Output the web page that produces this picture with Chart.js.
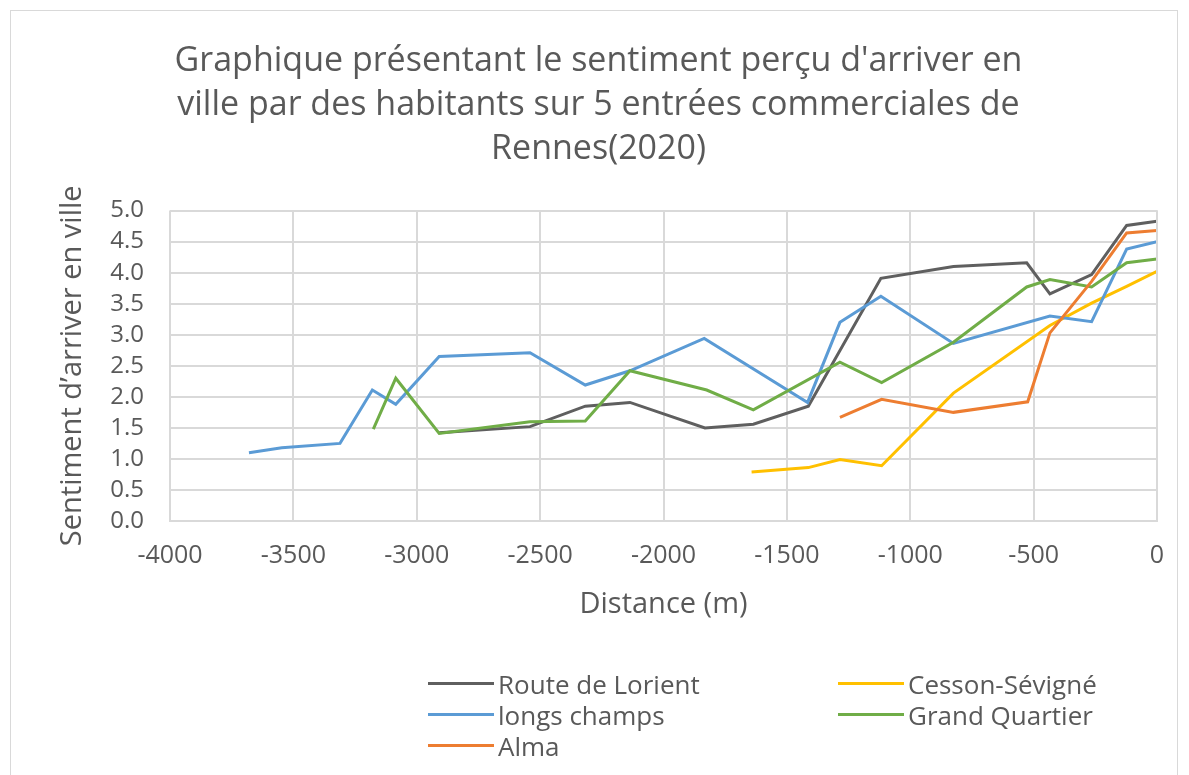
<!DOCTYPE html>
<html>
<head>
<meta charset="utf-8">
<script src="https://cdn.jsdelivr.net/npm/chart.js@4/dist/chart.umd.min.js"></script>
<style>
  body { margin: 0; background: #fff; font-family: "Open Sans", sans-serif; }
  #wrap { position: relative; width: 1189px; height: 775px; overflow: hidden; }
  #frame { position: absolute; left: 10px; top: 10px; width: 1168px; height: 800px; border: 1px solid #d9d9d9; box-sizing: border-box; }
  #c { position: absolute; left: 0; top: 0; }
  #legend { position: absolute; left: 428px; top: 668px; display: grid; grid-template-columns: 410px 300px; row-gap: 0px; }
  .item { display: flex; align-items: center; height: 31px; color: #595959; font-size: 26px; }
  .item span.ln { display: inline-block; width: 66px; height: 3px; margin-right: 4px; }
</style>
</head>
<body>
<div id="wrap">
  <div id="frame"></div>
  <canvas id="c" width="1189" height="775"></canvas>
  <div id="legend"></div>
</div>
<script>
// distances (m) and feeling values per entrance
const lorientX = [-2909, -2541, -2317, -2136, -1832, -1636, -1413, -1119, -825, -528, -434, -265, -123, 0];
const lorientY = [1.42, 1.52, 1.85, 1.91, 1.50, 1.56, 1.85, 3.91, 4.10, 4.16, 3.66, 3.97, 4.76, 4.83];

const cessonX = [-1643, -1413, -1285, -1116, -825, -434, -265, -123, 0];
const cessonY = [0.79, 0.86, 0.99, 0.89, 2.06, 3.15, 3.51, 3.78, 4.02];

const longsX = [-3680, -3547, -3311, -3180, -3085, -2909, -2541, -2317, -2136, -1835, -1416, -1285, -1119, -825, -434, -265, -123, 0];
const longsY = [1.10, 1.18, 1.25, 2.11, 1.88, 2.65, 2.71, 2.19, 2.42, 2.94, 1.91, 3.20, 3.62, 2.86, 3.30, 3.21, 4.38, 4.50];

const grandX = [-3176, -3085, -2909, -2541, -2317, -2136, -1825, -1636, -1285, -1116, -825, -528, -434, -265, -123, 0];
const grandY = [1.48, 2.30, 1.41, 1.60, 1.61, 2.42, 2.11, 1.79, 2.56, 2.23, 2.88, 3.77, 3.89, 3.77, 4.16, 4.22];

const almaX = [-1285, -1116, -825, -524, -434, -265, -123, 0];
const almaY = [1.67, 1.96, 1.75, 1.92, 3.03, 3.86, 4.64, 4.68];

const seriesNames = ['Route de Lorient', 'Cesson-Sévigné', 'longs champs', 'Grand Quartier', 'Alma'];
const seriesColors = ['#5f5f5f', '#ffc000', '#5b9bd5', '#70ad47', '#ed7d31'];
const seriesX = [lorientX, cessonX, longsX, grandX, almaX];
const seriesY = [lorientY, cessonY, longsY, grandY, almaY];

const titleLines = ["Graphique présentant le sentiment perçu d'arriver en", 'ville par des habitants sur 5 entrées commerciales de', 'Rennes(2020)'];

function toPoints(xs, ys) {
    return xs.map((x, i) => ({ x: x, y: ys[i] }));
}

const datasets = seriesNames.map((name, i) => ({
    label: name,
    data: toPoints(seriesX[i], seriesY[i]),
    borderColor: seriesColors[i],
    backgroundColor: seriesColors[i],
    borderWidth: 3,
    pointRadius: 0,
    showLine: true,
    fill: false,
    tension: 0,
    order: seriesNames.length - i
}));

const textColor = '#595959';
const gridColor = '#d9d9d9';

new Chart(document.getElementById('c'), {
    type: 'scatter',
    data: { datasets: datasets },
    options: {
        responsive: false,
        animation: false,
        layout: { padding: { left: 40, right: 32, top: 10, bottom: 150 } },
        plugins: {
            legend: { display: false },
            tooltip: { enabled: false },
            title: {
                display: true,
                text: titleLines,
                color: textColor,
                font: { family: 'Open Sans', size: 34, weight: 'normal', lineHeight: 1.3 },
                padding: { top: 29, bottom: 39 }
            }
        },
        scales: {
            x: {
                type: 'linear',
                min: -4000,
                max: 0,
                afterFit: (s) => { s.height = 104; },
                ticks: { stepSize: 500, color: textColor, font: { family: 'Open Sans', size: 25 }, padding: 20, maxRotation: 0,
                    autoSkip: false, callback: (v) => String(v) },
                grid: { color: gridColor, lineWidth: 2, drawTicks: false },
                border: { color: gridColor, width: 2 },
                title: { display: true, text: 'Distance (m)', color: textColor, font: { family: 'Open Sans', size: 29 }, padding: { top: 4, bottom: 3 } }
            },
            y: {
                min: 0,
                max: 5,
                afterFit: (s) => { s.width = 130; },
                ticks: { stepSize: 0.5, color: textColor, font: { family: 'Open Sans', size: 24 }, padding: 26,
                    autoSkip: false, callback: (v) => v.toFixed(1) },
                grid: { color: gridColor, lineWidth: 2, drawTicks: false },
                border: { display: false },
                title: { display: true, text: 'Sentiment d’arriver en ville', color: textColor, font: { family: 'Open Sans', size: 29 }, padding: { top: 15, bottom: 0 } }
            }
        }
    },
    plugins: [{
        id: 'rightEdge',
        afterDraw(chart) {
            const a = chart.chartArea, ctx = chart.ctx;
            ctx.save();
            ctx.strokeStyle = gridColor;
            ctx.lineWidth = 2;
            ctx.beginPath();
            ctx.moveTo(a.right, a.top);
            ctx.lineTo(a.right, a.bottom);
            ctx.stroke();
            ctx.restore();
        }
    }]
});

// legend laid out in two columns like the original
const legend = document.getElementById('legend');
[0, 1, 2, 3, 4].forEach(i => {
    const d = document.createElement('div');
    d.className = 'item';
    d.innerHTML = '<span class="ln" style="background:' + seriesColors[i] + '"></span>' + seriesNames[i];
    legend.appendChild(d);
});
</script>
</body>
</html>
